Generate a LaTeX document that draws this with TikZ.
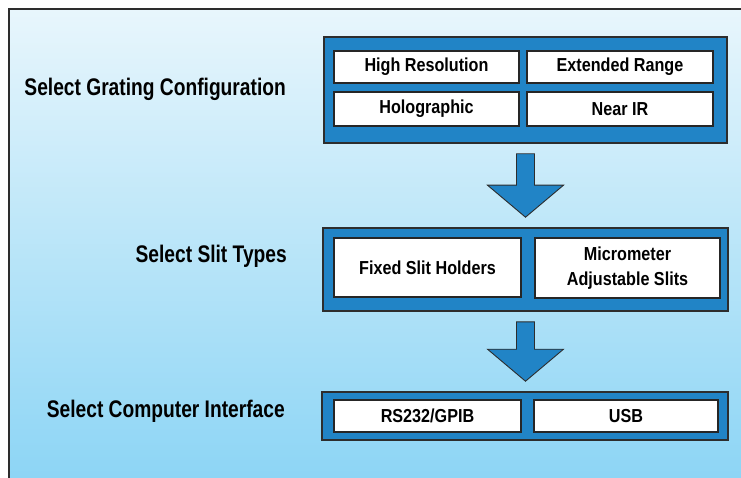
\documentclass[tikz,border=0pt]{standalone}
\usepackage{fontspec}
\newfontfamily\labelfont{Liberation Sans}[FakeStretch=0.80]
\newfontfamily\boxfont{Liberation Sans}[FakeStretch=0.86]
\usetikzlibrary{calc}
\definecolor{panelblue}{RGB}{33,132,198}
\definecolor{edgegray}{RGB}{45,45,45}
\definecolor{bgtop}{RGB}{232,246,252}
\definecolor{bgbottom}{RGB}{141,213,245}

\begin{document}
\begin{tikzpicture}[x=1pt,y=-1pt,
  group/.style={draw=edgegray,fill=panelblue,line width=1.6pt,inner sep=0pt},
  choice/.style={draw=black!85,fill=white,line width=1.8pt,inner sep=0pt,align=center,
    font=\boxfont\bfseries\fontsize{18.8}{25}\selectfont},
  steplabel/.style={anchor=base east,inner sep=0pt,font=\labelfont\bfseries\fontsize{24}{28}\selectfont},
  blockarrow/.style={draw=edgegray,fill=panelblue,line width=0.9pt,line join=miter}]
  \clip (0,0) rectangle (741,478);
  \shade[top color=bgtop,bottom color=bgbottom] (9,9) rectangle (741,478);
  \draw[edgegray,line width=2pt] (9,9) rectangle (780,520);

  % option panels
  \node[group,minimum width=403pt,minimum height=106pt] (grating) at (525.5,90) {};
  \node[group,minimum width=405pt,minimum height=83pt] (slit) at (525.5,269.5) {};
  \node[group,minimum width=406pt,minimum height=48pt] (iface) at (525,416) {};

  \node[choice,minimum width=185pt,minimum height=32pt] (hires) at (426.5,67) {High Resolution};
  \node[choice,minimum width=186pt,minimum height=32pt] (extrange) at (620,67) {Extended Range};
  \node[choice,minimum width=185pt,minimum height=34pt] (holo) at (426.5,109) {Holographic};
  \node[choice,minimum width=186pt,minimum height=34pt] (nearir) at (620,109) {Near IR};
  \node[choice,minimum width=187pt,minimum height=59pt] (fixed) at (427.5,267.5) {Fixed Slit Holders};
  \node[choice,minimum width=185pt,minimum height=60pt] (micro) at (627.5,268) {Micrometer\\Adjustable Slits};
  \node[choice,minimum width=187pt,minimum height=32pt] (rs) at (427.5,416) {RS232/GPIB};
  \node[choice,minimum width=184pt,minimum height=32pt] (usb) at (626,416) {USB};

  % step labels
  \node[steplabel] (selgrating) at (286,96) {Select Grating Configuration};
  \node[steplabel] (selslit) at (287,262) {Select Slit Types};
  \node[steplabel] (seliface) at (285,417) {Select Computer Interface};

  % block arrows between panels
  \foreach \a/\b in {grating/slit,slit/iface}
    \draw[blockarrow] ($(\a.south)+(-9,10)$) -- ($(\a.south |- \b.north)+(-9,-42)$) -- ++(-29,0)
      -- ($(\a.south |- \b.north)+(0,-10)$) -- ($(\a.south |- \b.north)+(38,-42)$) -- ++(-29,0)
      -- ($(\a.south)+(9,10)$) -- cycle;
\end{tikzpicture}
\end{document}
